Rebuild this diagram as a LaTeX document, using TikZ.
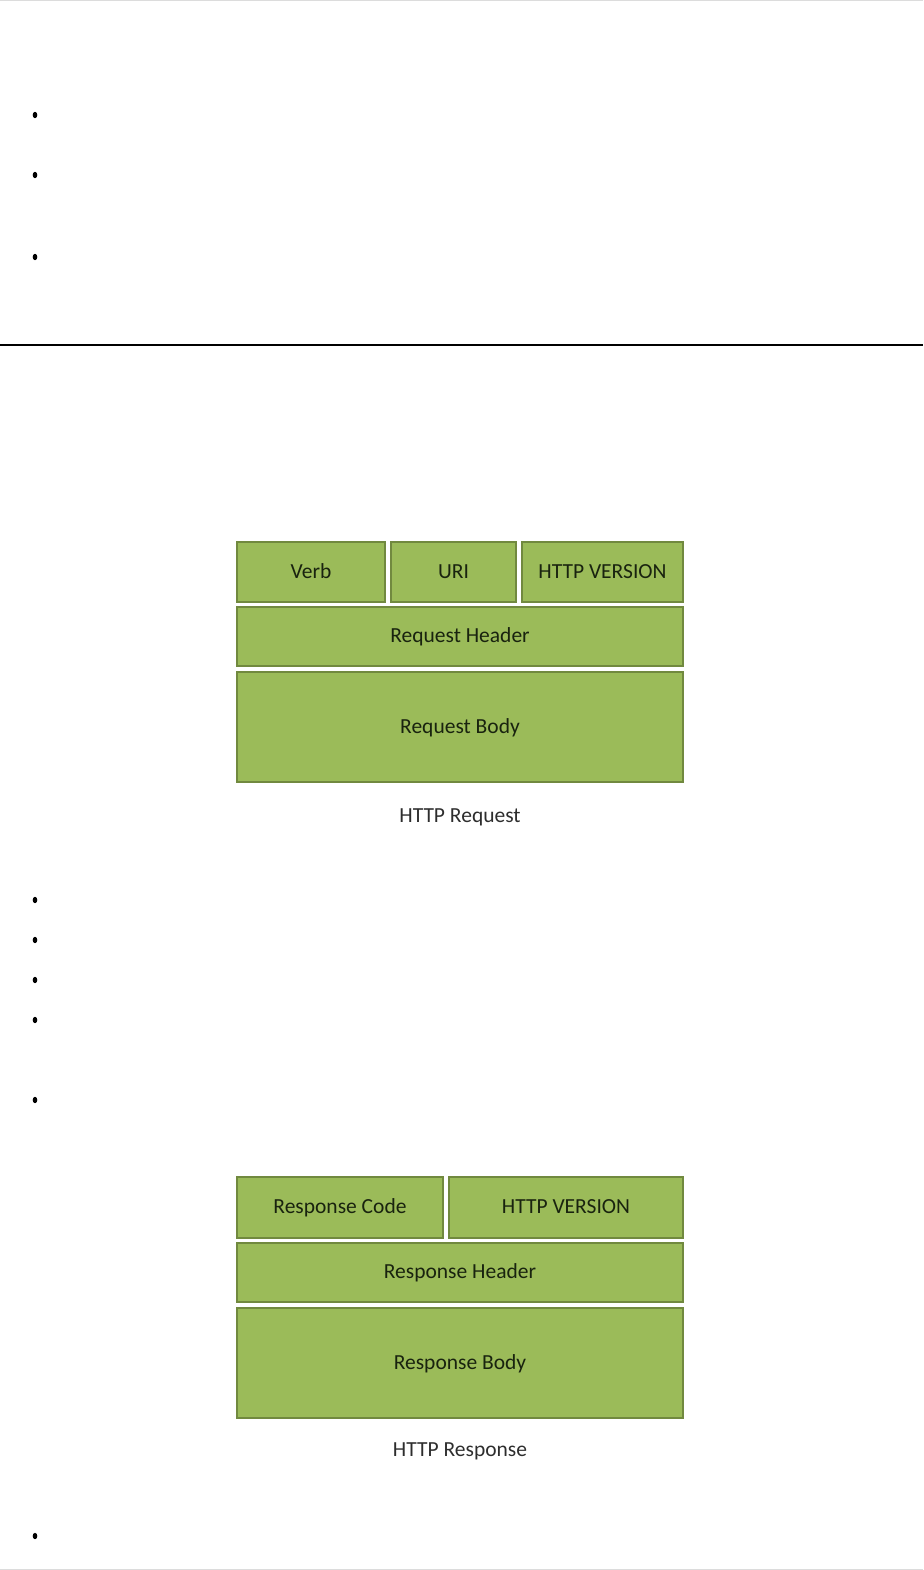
\documentclass[tikz,border=0pt]{standalone}
\usepackage{fontspec}
\setmainfont{Carlito}
\usetikzlibrary{positioning}
\definecolor{boxfill}{RGB}{155,187,89}
\definecolor{boxline}{RGB}{113,137,63}
\definecolor{boxtext}{RGB}{25,35,15}
\definecolor{captext}{RGB}{45,45,45}
\definecolor{rulegray}{RGB}{220,220,220}
\tikzset{
  part/.style={rectangle, draw=boxline, fill=boxfill, line width=1.6pt,
               text=boxtext, outer sep=0pt, inner sep=0pt,
               text height=1.25em, text depth=0pt,
               minimum height=59pt, align=center},
  caption/.style={text=captext, inner sep=0pt},
  bullet/.style={fill=black}
}
\begin{document}
\begin{tikzpicture}[x=1pt, y=-1pt, font=\fontsize{21.5}{26}\selectfont]
\useasboundingbox (0,0) rectangle (923,1570);
% page edges and separator
\draw[rulegray, line width=1pt] (0,0.5) -- (923,0.5);
\draw[rulegray, line width=1pt] (0,1569.5) -- (923,1569.5);
\draw[black, line width=2pt] (0,345) -- (923,345);
% list bullets
\foreach \yb in {115,175,257,900,940,980,1020,1100,1536}
  \fill[bullet] (35,\yb) ellipse [x radius=2.3pt, y radius=3.2pt];
% request
\node[part, minimum width=148pt, minimum height=60pt, anchor=north west] (verb) at (237,542) {Verb};
\node[part, minimum width=125pt, minimum height=60pt, right=6pt of verb] (uri) {URI};
\node[part, minimum width=161pt, minimum height=60pt, right=6pt of uri] (reqver) {HTTP VERSION};
\node[part, minimum width=446pt, below=5pt of verb.south west, anchor=north west] (reqhead) {Request Header};
\node[part, minimum width=446pt, minimum height=110pt, below=6pt of reqhead] (reqbody) {Request Body};
\node[caption, below=26pt of reqbody] (reqcap) {HTTP Request};
% response
\node[part, minimum width=206pt, minimum height=61pt, anchor=north west] (code) at (237,1177) {Response Code};
\node[part, minimum width=234pt, minimum height=61pt, right=6pt of code] (resver) {HTTP VERSION};
\node[part, minimum width=446pt, below=5pt of code.south west, anchor=north west] (reshead) {Response Header};
\node[part, minimum width=446pt, minimum height=110pt, below=6pt of reshead] (resbody) {Response Body};
\node[caption, below=24pt of resbody] (rescap) {HTTP Response};
\end{tikzpicture}
\end{document}
